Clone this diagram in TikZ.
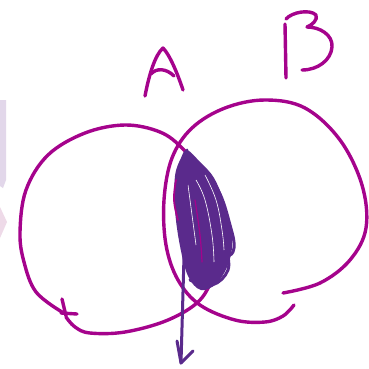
\documentclass[tikz,border=0pt]{standalone}
\begin{document}
\begin{tikzpicture}[x=1pt,y=-1pt,
  pen/.style={draw=penmag,line width=3.4pt,line cap=round,line join=round},
  scrib/.style={draw=penpur,line width=3pt,line cap=round,line join=round}]
\definecolor{penmag}{HTML}{A5038C}
\definecolor{penpur}{HTML}{5A2A8C}
\definecolor{ghost}{HTML}{E2D7EA}
\definecolor{ghostpink}{HTML}{EEDAE8}
\useasboundingbox[fill=white] (0,0) rectangle (368,369);
% faint artifacts at left edge
\fill[ghost] (0,100) -- (6,100) -- (6,180) -- (3,188) -- (0,186) -- cycle;
\fill[ghostpink] (0,207) -- (7,222) -- (0,238) -- cycle;
% label A
\draw[pen] (145,96) .. controls (149,75) and (155,55) .. (163,48)
  .. controls (170,55) and (178,75) .. (183,90);
\draw[pen] (151,74) .. controls (156,68) and (166,68) .. (174,76);
% label B
\draw[pen] (285,24) -- (286,78);
\draw[pen] (286,19) .. controls (292,12) and (310,9) .. (316,15)
  .. controls (318,20) and (312,25) .. (307,27)
  .. controls (320,27) and (333,35) .. (332,47)
  .. controls (331,60) and (318,70) .. (302,70);
% circle A (open, with tick at lower left)
\draw[pen] plot[smooth,tension=0.6] coordinates {(62,312) (36,292) (24,262) (20,232) (26,190) (48,155) (85,133) (125,125) (160,132) (182,148) (198,170) (212,205) (218,245) (214,272) (200,300) (168,320) (125,332) (90,333) (75,327) (66,317)};
\draw[pen] (62,299) -- (66,316);
\draw[pen] (61,313) -- (77,314);
% circle B (open)
\draw[pen] plot[smooth,tension=0.6] coordinates {(283,293) (320,283) (350,260) (366,228) (362,185) (340,140) (305,108) (265,100) (225,108) (192,128) (172,158) (164,200) (166,245) (178,280) (200,305) (235,320) (265,322) (283,316) (294,305)};
% shaded intersection scribble
\fill[penpur] plot[smooth cycle,tension=0.6] coordinates {(187,150) (200,162) (214,178) (225,205) (232,238) (229,262) (217,283) (201,290) (188,276) (180,246) (175,210) (175,176) (181,158)};
\draw[scrib] plot[smooth,tension=0.7] coordinates {(185,165) (200,170) (218,190) (230,225) (234,248) (226,256) (210,250)};
\draw[scrib] plot[smooth,tension=0.7] coordinates {(190,280) (212,285) (228,270) (226,250)};
\draw[white,line width=0.6pt] plot[smooth,tension=0.7] coordinates {(196,180) (205,200) (212,235) (214,262)};
\draw[white,line width=0.6pt] plot[smooth,tension=0.7] coordinates {(188,185) (192,215) (196,245)};
\draw[white,line width=0.6pt] plot[smooth,tension=0.7] coordinates {(205,175) (216,200) (222,230) (224,250)};
\draw[penmag,line width=1.8pt,line cap=round] plot[smooth,tension=0.7] coordinates {(176,180) (174,200) (178,220)};
\draw[penmag,line width=1.2pt,line cap=round] plot[smooth,tension=0.7] coordinates {(195,200) (200,235) (202,262)};
% arrow
\coordinate (top) at (187,150);
\coordinate (tip) at (181,363);
\draw[scrib] (top) -- (tip);
\draw[scrib] (177,341) -- (tip) -- (193,351);
\end{tikzpicture}
\end{document}
